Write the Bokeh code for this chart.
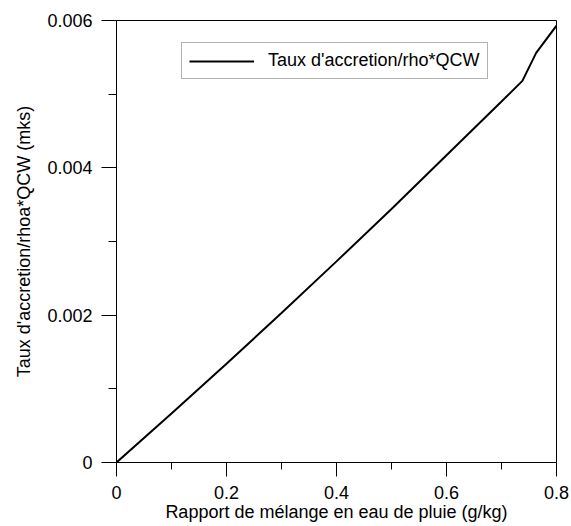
from bokeh.plotting import figure
from bokeh.models import FixedTicker, Legend, LegendItem, Range1d
from bokeh.embed import file_html
from bokeh.resources import INLINE

# Data
x_vals = [0.0, 0.1, 0.2, 0.3, 0.4, 0.5, 0.6, 0.7, 0.738, 0.763, 0.8]
y_vals = [0.0, 0.000665, 0.00134, 0.00203, 0.00273, 0.00344, 0.00417, 0.00490, 0.00518, 0.00556, 0.00593]
series_name = "Taux d'accretion/rho*QCW"

x_ticks = [0.0, 0.2, 0.4, 0.6, 0.8]
x_tick_labels = ["0", "0.2", "0.4", "0.6", "0.8"]
x_minor = [0.1, 0.3, 0.5, 0.7]
y_ticks = [0.0, 0.002, 0.004, 0.006]
y_tick_labels = ["0", "0.002", "0.004", "0.006"]
y_minor = [0.001, 0.003, 0.005]

x_title = "Rapport de mélange en eau de pluie (g/kg)"
y_title = "Taux d'accretion/rhoa*QCW (mks)"

FONT = "Liberation Sans"

p = figure(width=571, height=526, output_backend="svg", toolbar_location=None,
           x_range=Range1d(0, 0.8), y_range=Range1d(0, 0.006),
           min_border_left=116, min_border_top=20, min_border_right=15, min_border_bottom=64)
p.frame_width = 440
p.frame_height = 442

p.xgrid.visible = False
p.ygrid.visible = False
p.outline_line_color = "black"
p.outline_line_width = 1
p.background_fill_color = "white"
p.border_fill_color = "white"

r = p.line(x_vals, y_vals, line_color="black", line_width=2)

for ax, ticks, labels, minor in ((p.xaxis[0], x_ticks, x_tick_labels, x_minor),
                                 (p.yaxis[0], y_ticks, y_tick_labels, y_minor)):
    ax.ticker = FixedTicker(ticks=ticks, minor_ticks=minor)
    ax.major_label_overrides = {t: l for t, l in zip(ticks, labels)}
    ax.axis_line_color = "black"
    ax.major_tick_line_color = "black"
    ax.minor_tick_line_color = "black"
    ax.major_tick_in = 0
    ax.minor_tick_in = 0
    ax.major_label_text_font = FONT
    ax.major_label_text_font_size = "18px"
    ax.major_label_text_color = "black"
    ax.axis_label_text_font = FONT
    ax.axis_label_text_font_size = "18px"
    ax.axis_label_text_font_style = "normal"
    ax.axis_label_text_color = "black"

p.xaxis[0].axis_label = x_title
p.xaxis[0].major_tick_out = 14
p.xaxis[0].minor_tick_out = 7
p.xaxis[0].major_label_standoff = 9
p.xaxis[0].axis_label_standoff = 0

p.yaxis[0].axis_label = y_title
p.yaxis[0].major_tick_out = 15
p.yaxis[0].minor_tick_out = 8
p.yaxis[0].major_label_standoff = 9
p.yaxis[0].axis_label_standoff = 10

legend = Legend(items=[LegendItem(label=series_name, renderers=[r])],
                location=(65, 383),
                padding=7, spacing=0, margin=0,
                glyph_width=65, glyph_height=20, label_height=20,
                label_standoff=14,
                label_text_font=FONT, label_text_font_size="18px",
                label_text_color="black",
                border_line_color="#666666", border_line_width=1,
                background_fill_color="white", background_fill_alpha=1)
p.add_layout(legend, "center")

open("out.html", "w").write(file_html(p, INLINE))
